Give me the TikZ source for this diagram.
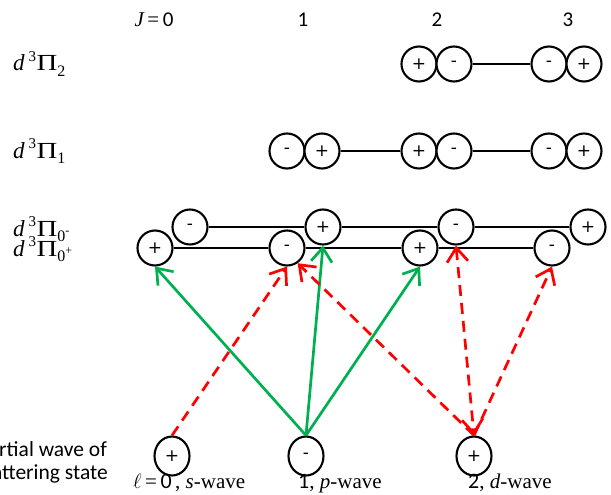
\documentclass[tikz,border=0pt]{standalone}
\usepackage{fontspec}
\usepackage{graphicx}
\setmainfont{Liberation Serif}
\newfontfamily\dejavu{DejaVu Sans}
\newfontfamily\carlito{Carlito}
\usetikzlibrary{arrows.meta,shapes.geometric}
\definecolor{grn}{RGB}{0,176,80}
\definecolor{rd}{RGB}{255,0,0}
\newcommand{\lvlabel}[2]{{\itshape d}\,\raisebox{0.4em}{\fontsize{15}{15}\selectfont 3}\hspace{0.5pt}\scalebox{1.25}[1]{Π}\raisebox{-0.26em}{\fontsize{16}{16}\selectfont #1}#2}
\begin{document}
\begin{tikzpicture}[x=1pt,y=-1pt,
  pm/.style={circle,draw,line width=2.1pt,minimum size=35pt,inner sep=0pt,fill=white,
    font=\dejavu\fontsize{17}{17}\selectfont},
  pmb/.style={ellipse,draw,line width=2.1pt,minimum width=35pt,minimum height=39pt,inner sep=0pt,fill=white,
    font=\dejavu\fontsize{17}{17}\selectfont},
  lvl/.style={line width=2pt},
  garr/.style={draw=grn,line width=2.7pt,-{Straight Barb[length=14pt,width=21pt]}},
  rarr/.style={draw=rd,line width=2.7pt,dash pattern=on 11pt off 7pt,-{Straight Barb[length=14pt,width=21pt]}},
  rarrb/.style={draw=rd,line width=2.7pt,dash pattern=on 11pt off 7pt,{Straight Barb[length=14pt,width=21pt]}-{Straight Barb[length=14pt,width=21pt]}},
  hdr/.style={font=\carlito\fontsize{21}{21}\selectfont},
  rowlab/.style={anchor=base west,inner sep=0pt,font=\fontsize{23}{26}\selectfont},
  wlab/.style={anchor=base west,inner sep=0pt,font=\fontsize{21}{24}\selectfont},
  side/.style={anchor=base east,inner sep=0pt,font=\carlito\fontsize{21.5}{24}\selectfont}
]
\useasboundingbox (0,0) rectangle (611,495);

% column headers
\node[hdr] (hJ) at (154,20) {{\rmfamily\itshape J}\,{\rmfamily =}\,0};
\node[hdr] (h1) at (303,20) {1};
\node[hdr] (h2) at (437,20) {2};
\node[hdr] (h3) at (568,20) {3};

% row labels
\node[rowlab] (r2) at (13,71) {\lvlabel{2}{}};
\node[rowlab] (r1) at (13,158) {\lvlabel{1}{}};
\node[rowlab] (r0m) at (13,236) {\lvlabel{0}{\raisebox{0.05em}{\fontsize{12}{12}\selectfont -}}};
\node[rowlab] (r0p) at (13,256) {\lvlabel{0}{\raisebox{0.05em}{\fontsize{12}{12}\selectfont +}}};

% Pi_2 row
\node[pm] (a1) at (419,64) {+};
\node[pm] (a2) at (454,64) {-};
\node[pm] (a3) at (549,64) {-};
\node[pm] (a4) at (584,64) {+};
\draw[lvl] (a2) -- (a3);

% Pi_1 row
\node[pm] (b1) at (287,151) {-};
\node[pm] (b2) at (322,151) {+};
\node[pm] (b3) at (419,151) {+};
\node[pm] (b4) at (454,151) {-};
\node[pm] (b5) at (549,151) {-};
\node[pm] (b6) at (584,151) {+};
\draw[lvl] (b2) -- (b3);
\draw[lvl] (b4) -- (b5);

% Pi_0- row
\node[pm] (u0) at (190,227) {-};
\node[pm] (u1) at (323,227) {+};
\node[pm] (u2) at (456,227) {-};
\node[pm] (u3) at (588,227) {+};
\draw[lvl] (u0) -- (u1);
\draw[lvl] (u1) -- (u2);
\draw[lvl] (u2) -- (u3);

% Pi_0+ row
\node[pm] (l0) at (155,248) {+};
\node[pm] (l1) at (287,248) {-};
\node[pm] (l2) at (420,248) {+};
\node[pm] (l3) at (552,248) {-};
\draw[lvl] (l0) -- (l1);
\draw[lvl] (l1) -- (l2);
\draw[lvl] (l2) -- (l3);

% partial waves
\node[pmb] (s) at (172,456) {+};
\node[pmb] (p) at (306,456) {-};
\node[pmb] (d) at (474,456) {+};

\node[wlab] (sl) at (133,488) {$\ell$\,=\,{\carlito\fontsize{22}{22}\selectfont 0}\,, {\itshape s}-wave};
\node[wlab] (pl) at (298,488) {{\carlito\fontsize{22}{22}\selectfont 1}, {\itshape p}-wave};
\node[wlab] (dl) at (468,488) {{\carlito\fontsize{22}{22}\selectfont 2}, {\itshape d}-wave};

\begin{scope}
\clip (0,0) rectangle (611,495);
\node[side] (t1) at (107,456) {Partial wave of};
\node[side] (t2) at (108,479) {scattering state};
\end{scope}

% transitions
\draw[garr] (p.north) -- (l0.south);
\draw[garr] (p.north) -- (u1.south);
\draw[garr] (p.north) -- (l2.south);
\draw[rarr] (s.north) -- (l1.south);
\draw[rarr] (d.north) -- (l1.-55);
\draw[rarrb] (u2.south) -- (d.north);
\draw[rarr] (d.north) -- (l3.south);
\end{tikzpicture}
\end{document}
